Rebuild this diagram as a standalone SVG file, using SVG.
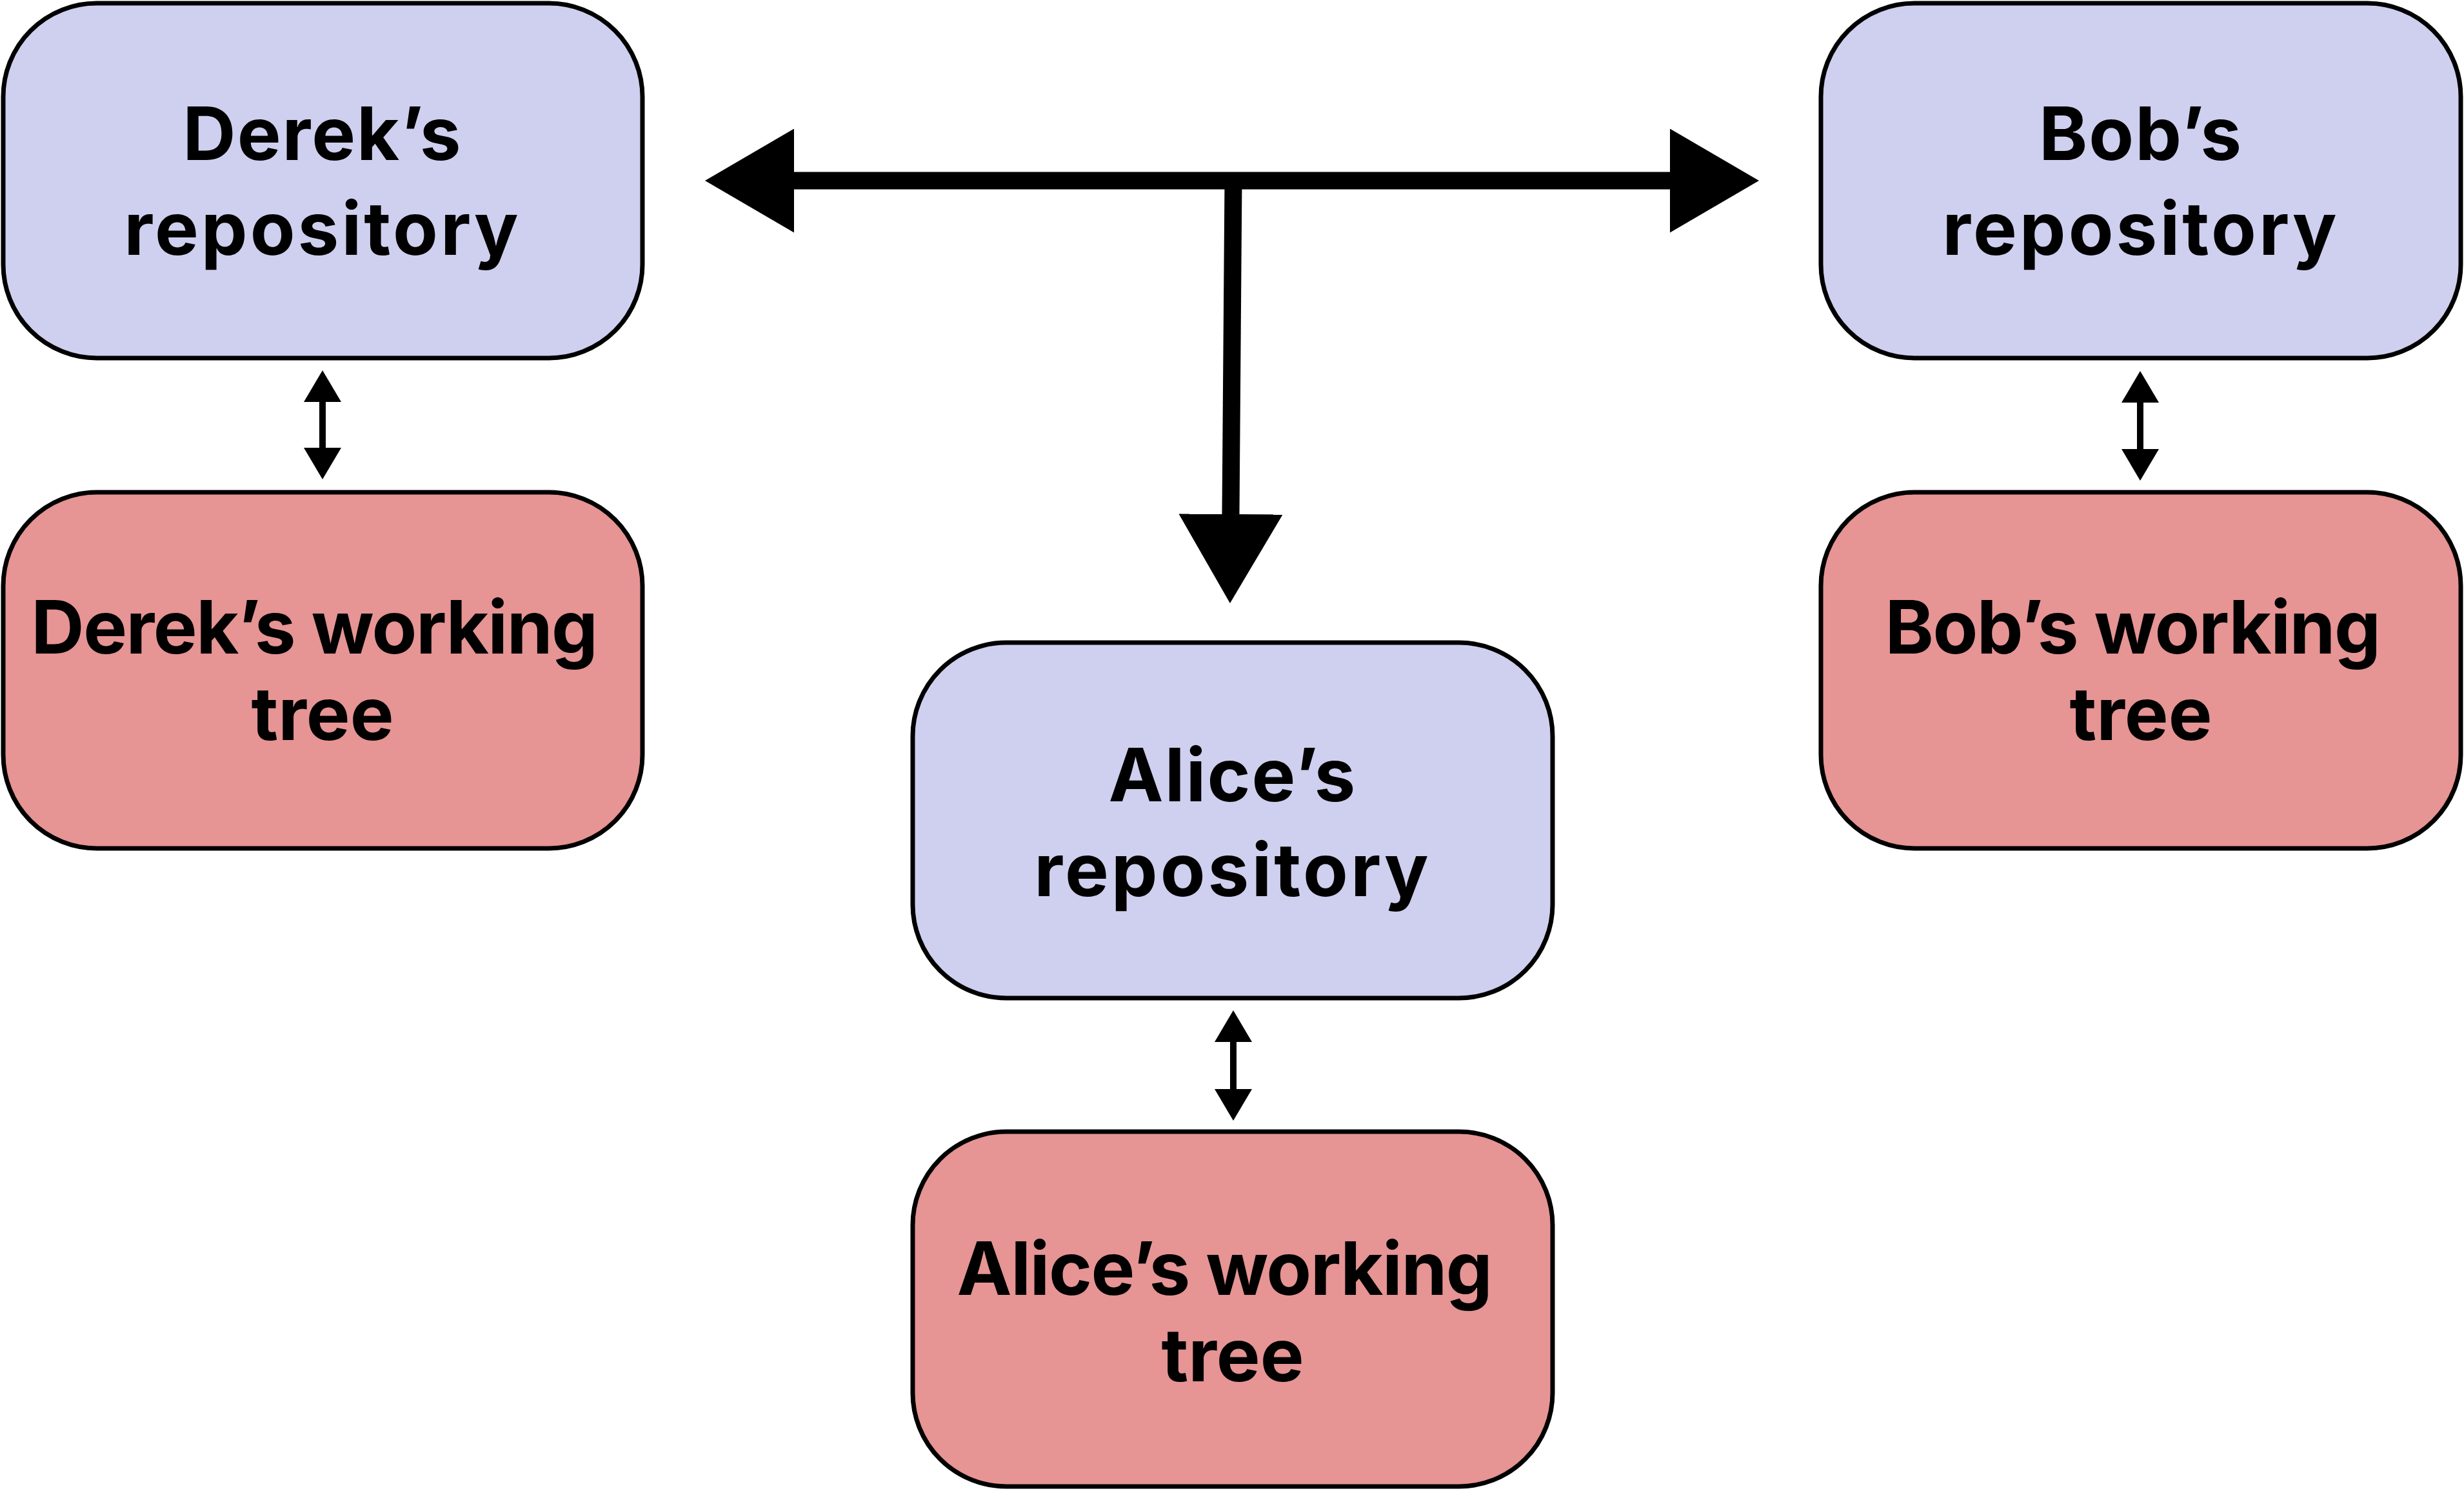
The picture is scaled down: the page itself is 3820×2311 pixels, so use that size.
<svg xmlns="http://www.w3.org/2000/svg" width="3820" height="2311" viewBox="0 0 3820 2311">
  <style>
    .box { stroke: #000; stroke-width: 7; }
    .repo { fill: #cfcfef; }
    .tree { fill: #e69494; }
    .label { font-family: Inter, "Liberation Sans", sans-serif; font-weight: 700; font-size: 114px; fill: #000; text-anchor: middle; }
    .wide { letter-spacing: 4px; }
    .name { letter-spacing: 2px; }
    .tight { letter-spacing: -1.5px; }
    .big { stroke: #000; stroke-width: 27; fill: none; }
    .small { stroke: #000; stroke-width: 10; fill: none; }
  </style>
  <defs>
    <marker id="bigHead" viewBox="0 0 138 161" markerUnits="userSpaceOnUse" markerWidth="138" markerHeight="161" refX="0" refY="80.5" orient="auto-start-reverse">
      <path d="M0,0 L138,80.5 L0,161 z" fill="#000"/>
    </marker>
    <marker id="smallHead" viewBox="0 0 49 58" markerUnits="userSpaceOnUse" markerWidth="49" markerHeight="58" refX="0" refY="29" orient="auto-start-reverse">
      <path d="M0,0 L49,29 L0,58 z" fill="#000"/>
    </marker>
  </defs>

  <g id="connectors">
    <line class="big" x1="1231" y1="280" x2="2589" y2="280" marker-start="url(#bigHead)" marker-end="url(#bigHead)"/>
    <line class="big" x1="1912" y1="280" x2="1908" y2="797" marker-end="url(#bigHead)"/>
    <line class="small" x1="500" y1="623" x2="500" y2="694" marker-start="url(#smallHead)" marker-end="url(#smallHead)"/>
    <line class="small" x1="1912" y1="1615" x2="1912" y2="1688" marker-start="url(#smallHead)" marker-end="url(#smallHead)"/>
    <line class="small" x1="3318" y1="624" x2="3318" y2="696" marker-start="url(#smallHead)" marker-end="url(#smallHead)"/>
  </g>

  <g id="derek-repo">
    <rect class="box repo" x="5" y="5" width="991" height="550" rx="145" ry="145"/>
    <text class="label name" x="500" y="248">Derek’s</text>
    <text class="label wide" x="500" y="395">repository</text>
  </g>
  <g id="derek-tree">
    <rect class="box tree" x="5" y="763" width="991" height="552" rx="145" ry="145"/>
    <text class="label tight" x="487" y="1013">Derek’s working</text>
    <text class="label" x="500" y="1147">tree</text>
  </g>
  <g id="alice-repo">
    <rect class="box repo" x="1415" y="996" width="992" height="551" rx="145" ry="145"/>
    <text class="label name" x="1911" y="1242">Alice’s</text>
    <text class="label wide" x="1911" y="1389">repository</text>
  </g>
  <g id="alice-tree">
    <rect class="box tree" x="1415" y="1754" width="992" height="550" rx="145" ry="145"/>
    <text class="label tight" x="1898" y="2007">Alice’s working</text>
    <text class="label" x="1911" y="2141">tree</text>
  </g>
  <g id="bob-repo">
    <rect class="box repo" x="2823" y="5" width="992" height="550" rx="145" ry="145"/>
    <text class="label name" x="3319" y="248">Bob’s</text>
    <text class="label wide" x="3319" y="395">repository</text>
  </g>
  <g id="bob-tree">
    <rect class="box tree" x="2823" y="763" width="992" height="552" rx="145" ry="145"/>
    <text class="label tight" x="3306" y="1013">Bob’s working</text>
    <text class="label" x="3319" y="1147">tree</text>
  </g>
</svg>
